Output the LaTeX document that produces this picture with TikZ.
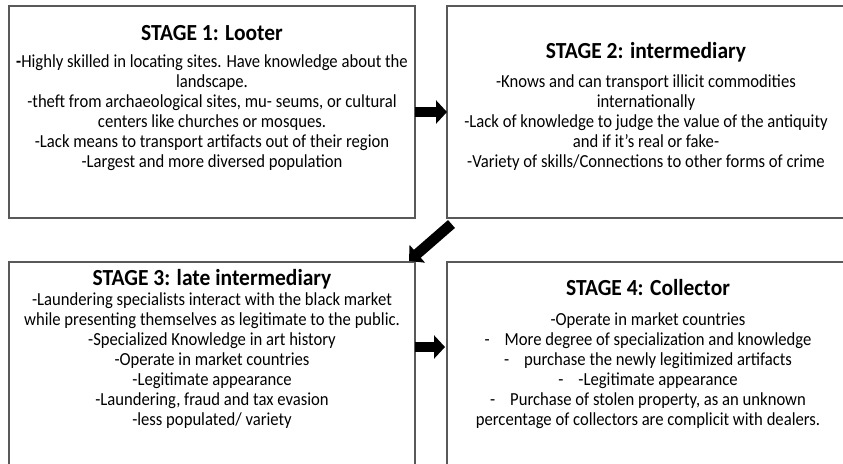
\documentclass[tikz,border=0pt]{standalone}
\usepackage{fontspec}
\setmainfont{Carlito}
\newfontfamily\bodyfont[FakeStretch=0.905]{Carlito}
\newfontfamily\titlefont[FakeStretch=0.935]{Carlito}
\usetikzlibrary{arrows.meta}
\tikzset{
  stagebox/.style={draw=black!65, line width=1.2pt, fill=white, inner sep=0pt, outer sep=0pt},
  ttl/.style={anchor=base, inner sep=0pt, font=\titlefont\fontsize{23}{26}\selectfont\bfseries},
  body/.style={anchor=base, inner sep=0pt, align=center, font=\bodyfont\fontsize{18.4}{20}\selectfont},
  blockarrow/.style={line width=10.5pt, -{Triangle[length=11pt, width=23pt]}}
}
\begin{document}
\begin{tikzpicture}[x=1pt, y=-1pt]
\useasboundingbox (0,0) rectangle (843,463);
\clip (0,0) rectangle (843,463);
\fill[white] (0,0) rectangle (843,463);
% boxes
\node[stagebox, minimum width=406pt, minimum height=212pt] (b1) at (212,112) {};
\node[stagebox, minimum width=399pt, minimum height=212pt] (b2) at (646.5,112) {};
\node[stagebox, minimum width=406pt, minimum height=220pt] (b3) at (212,372) {};
\node[stagebox, minimum width=399pt, minimum height=220pt] (b4) at (646.5,372) {};
% texts (body nodes anchored at the baseline of their last line)
\node[ttl] (t1) at (212,40) {STAGE 1: Looter};
\node[body] (d1) at (212,167) {\textbf{-}Highly skilled in locating sites. Have knowledge about the\\
landscape.\\
-theft from archaeological sites, mu- seums, or cultural\\
centers like churches or mosques.\\
-Lack means to transport artifacts out of their region\\
-Largest and more diversed population};
\node[ttl] (t2) at (646,58) {STAGE 2: intermediary};
\node[body] (d2) at (646,167) {-Knows and can transport illicit commodities\\
internationally\\
-Lack of knowledge to judge the value of the antiquity\\
and if it’s real or fake-\\
-Variety of skills/Connections to other forms of crime};
\node[ttl] (t3) at (212,285) {STAGE 3: late intermediary};
\node[body] (d3) at (212,425) {-Laundering specialists interact with the black market\\
while presenting themselves as legitimate to the public.\\
-Specialized Knowledge in art history\\
-Operate in market countries\\
-Legitimate appearance\\
-Laundering, fraud and tax evasion\\
-less populated/ variety};
\node[ttl] (t4) at (648,295) {STAGE 4: Collector};
\node[body] (d4) at (648,425) {-Operate in market countries\\
-\hspace{15pt}More degree of specialization and knowledge\\
-\hspace{15pt}purchase the newly legitimized artifacts\\
-\hspace{15pt}-Legitimate appearance\\
-\hspace{15pt}Purchase of stolen property, as an unknown\\
percentage of collectors are complicit with dealers.};
% arrows
\draw[blockarrow] (b1.east) -- (b2.west);
\draw[blockarrow] ([shift={(4.5,6)}]b2.south west) -- ([shift={(-6,-1)}]b3.north east);
\draw[blockarrow] ([shift={(0,85)}]b3.north east) -- ([shift={(-2,85)}]b4.north west);
\end{tikzpicture}
\end{document}
